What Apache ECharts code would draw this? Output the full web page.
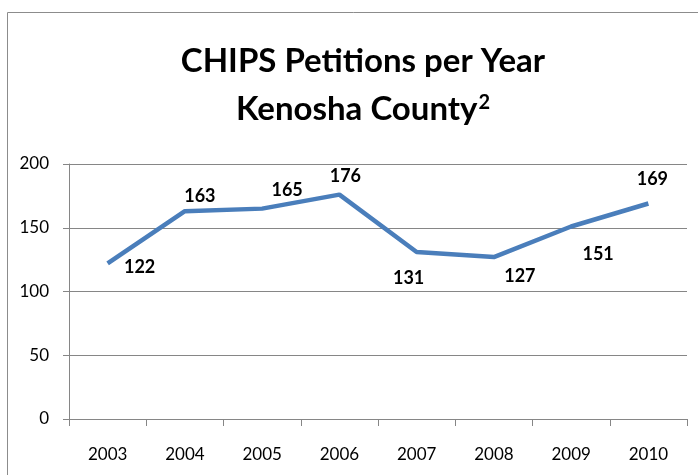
<!DOCTYPE html>
<html>
<head>
<meta charset="utf-8">
<script src="https://cdn.jsdelivr.net/npm/echarts@6/dist/echarts.min.js"></script>
<style>
  html, body { margin: 0; padding: 0; background: #fff; }
  #chart { width: 698px; height: 475px; }
</style>
</head>
<body>
<div id="chart"></div>
<script>
// data
var years = ['2003', '2004', '2005', '2006', '2007', '2008', '2009', '2010'];
var petitions = [122, 163, 165, 176, 131, 127, 151, 169];
// where each value label sits relative to its point (x, y in px)
var labelOffsets = [[32, 4], [15, -15], [25, -18], [6, -18], [-8, 26], [26, 19], [27, 28], [4, -24]];

var chart = echarts.init(document.getElementById('chart'));

var fontFam = 'Lato, "Open Sans", sans-serif';

var seriesData = petitions.map(function (v, i) {
    return {
        value: v,
        label: {
            position: [1 + labelOffsets[i][0], 1 + labelOffsets[i][1]],
            align: 'center',
            verticalAlign: 'middle'
        }
    };
});

var option = {
    animation: false,
    graphic: [{
        type: 'rect',
        shape: { x: 7.5, y: 12.5, width: 720, height: 500 },
        style: { fill: 'none', stroke: '#8c8c8c', lineWidth: 1 },
        silent: true
    }],
    title: {
        text: '{a|CHIPS Petitions per Year}\n{a|Kenosha County}{s|2}',
        left: 358,
        textAlign: 'center',
        top: 32,
        textStyle: {
            rich: {
                a: { fontFamily: fontFam, fontWeight: 'bold', fontSize: 33, color: '#000', lineHeight: 48 },
                s: { fontFamily: fontFam, fontWeight: 'bold', fontSize: 20, color: '#000', lineHeight: 48, padding: [0, 0, 12, 1] }
            }
        }
    },
    grid: { left: 69, right: 11, top: 164, bottom: 56 },
    xAxis: {
        type: 'category',
        data: years,
        boundaryGap: true,
        axisLine: { lineStyle: { color: '#868686' } },
        axisTick: { show: true, inside: false, length: 7, lineStyle: { color: '#868686' } },
        axisLabel: { fontFamily: fontFam, fontSize: 17, color: '#000', margin: 27 },
        splitLine: { show: false }
    },
    yAxis: {
        type: 'value',
        min: 0,
        max: 200,
        interval: 50,
        axisLine: { show: true, lineStyle: { color: '#868686' } },
        axisTick: { show: true, length: 6, lineStyle: { color: '#868686' } },
        axisLabel: { fontFamily: fontFam, fontSize: 17, color: '#000', margin: 20 },
        splitLine: { lineStyle: { color: '#868686', width: 1 } }
    },
    series: [{
        type: 'line',
        data: seriesData,
        symbol: 'circle',
        symbolSize: 2,
        showSymbol: true,
        itemStyle: { color: 'rgba(74,126,187,0)' },
        lineStyle: { color: '#4a7ebb', width: 4.5 },
        labelLayout: { hideOverlap: false },
        label: {
            show: true,
            fontFamily: fontFam,
            fontWeight: 'bold',
            fontSize: 18,
            color: '#000'
        }
    }]
};

chart.setOption(option);
</script>
</body>
</html>
